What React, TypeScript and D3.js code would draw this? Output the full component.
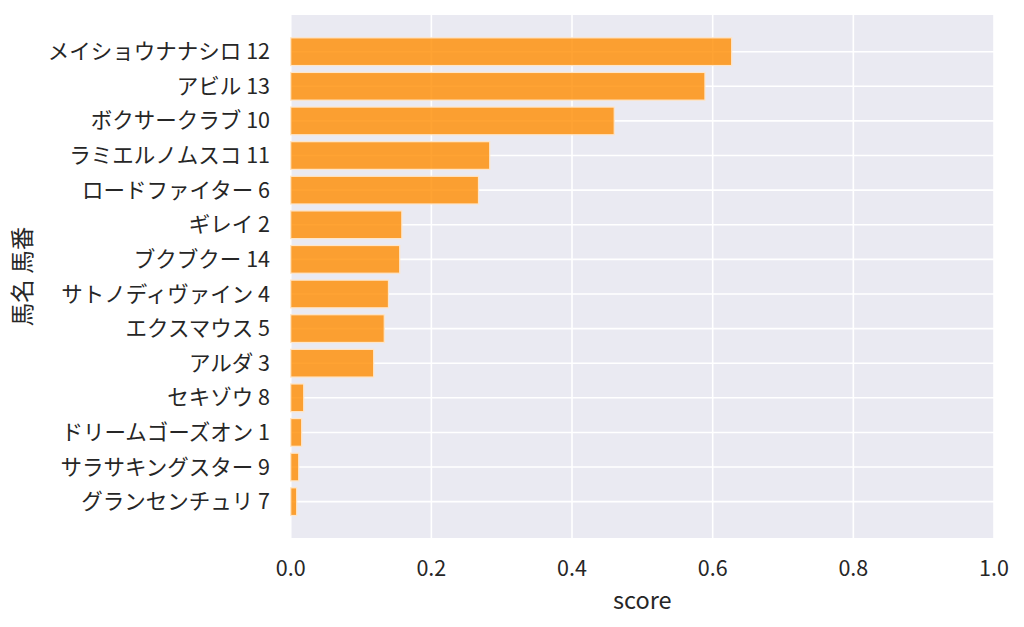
import React, { useEffect, useRef } from "react";
import * as d3 from "d3";

const horses: string[] = [
  "メイショウナナシロ 12",
  "アビル 13",
  "ボクサークラブ 10",
  "ラミエルノムスコ 11",
  "ロードファイター 6",
  "ギレイ 2",
  "ブクブクー 14",
  "サトノディヴァイン 4",
  "エクスマウス 5",
  "アルダ 3",
  "セキゾウ 8",
  "ドリームゴーズオン 1",
  "サラサキングスター 9",
  "グランセンチュリ 7",
];

const scores: number[] = [
  0.627, 0.589, 0.46, 0.283, 0.267, 0.158, 0.155, 0.139, 0.133, 0.118, 0.0185,
  0.0156, 0.0114, 0.0085,
];

const xTicks: number[] = [0, 0.2, 0.4, 0.6, 0.8, 1.0];

const FONT = "'Noto Sans CJK JP', 'Noto Sans', sans-serif";

const App: React.FC = () => {
  const svgRef = useRef<SVGSVGElement>(null);

  useEffect(() => {
    const width = 1024;
    const height = 627;
    const plot = { left: 290.7, right: 994, top: 15, bottom: 538 };

    const svg = d3.select(svgRef.current);
    svg.selectAll("*").remove();

    const x = d3.scaleLinear().domain([0, 1]).range([plot.left, plot.right]);
    const y = d3
      .scaleLinear()
      .domain([-1.06, horses.length - 1 + 1.05])
      .range([plot.top, plot.bottom]);

    svg
      .append("rect")
      .attr("x", plot.left)
      .attr("y", plot.top)
      .attr("width", plot.right - plot.left)
      .attr("height", plot.bottom - plot.top)
      .attr("fill", "#eaeaf2");

    // grid
    svg
      .append("g")
      .selectAll("line")
      .data(xTicks)
      .enter()
      .append("line")
      .attr("x1", (d) => x(d))
      .attr("x2", (d) => x(d))
      .attr("y1", plot.top)
      .attr("y2", plot.bottom)
      .attr("stroke", "white")
      .attr("stroke-width", 1.6);

    svg
      .append("g")
      .selectAll("line")
      .data(horses)
      .enter()
      .append("line")
      .attr("x1", plot.left)
      .attr("x2", plot.right)
      .attr("y1", (_, i) => y(i))
      .attr("y2", (_, i) => y(i))
      .attr("stroke", "white")
      .attr("stroke-width", 1.6);

    const band = (y(1) - y(0)) * 0.8;

    svg
      .append("g")
      .selectAll("rect")
      .data(scores)
      .enter()
      .append("rect")
      .attr("x", x(0))
      .attr("y", (_, i) => y(i) - band / 2)
      .attr("width", (d) => x(d) - x(0))
      .attr("height", band)
      .attr("fill", "#ff8c00")
      .attr("fill-opacity", 0.8)
      .attr("stroke", "#ffe6c8")
      .attr("stroke-width", 1.2);

    // x tick labels
    svg
      .append("g")
      .selectAll("text")
      .data(xTicks)
      .enter()
      .append("text")
      .attr("x", (d) => x(d))
      .attr("y", 576)
      .attr("text-anchor", "middle")
      .attr("font-family", FONT)
      .attr("font-size", 21.5)
      .attr("fill", "#262626")
      .text((d) => d.toFixed(1));

    // y tick labels
    svg
      .append("g")
      .selectAll("text")
      .data(horses)
      .enter()
      .append("text")
      .attr("x", 270)
      .attr("y", (_, i) => y(i))
      .attr("dy", "0.35em")
      .attr("text-anchor", "end")
      .attr("font-family", FONT)
      .attr("font-size", 21.5)
      .attr("fill", "#262626")
      .text((d) => d);

    svg
      .append("text")
      .attr("x", (plot.left + plot.right) / 2)
      .attr("y", 609)
      .attr("text-anchor", "middle")
      .attr("font-family", FONT)
      .attr("font-size", 23.5)
      .attr("fill", "#262626")
      .text("score");

    svg
      .append("text")
      .attr("transform", `translate(31,${(plot.top + plot.bottom) / 2}) rotate(-90)`)
      .attr("text-anchor", "middle")
      .attr("font-family", FONT)
      .attr("font-size", 23.5)
      .attr("fill", "#262626")
      .text("馬名 馬番");

    svg.attr("width", width).attr("height", height);
  }, []);

  return (
    <svg
      ref={svgRef}
      width={1024}
      height={627}
      style={{ position: "absolute", left: 0, top: 0, background: "white" }}
    ></svg>
  );
};

export default App;
